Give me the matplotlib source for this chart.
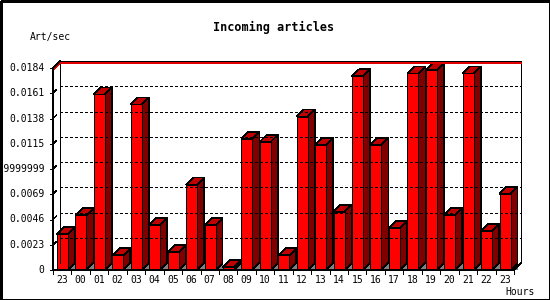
import matplotlib
matplotlib.use('Agg')
import matplotlib.pyplot as plt
from matplotlib.patches import Rectangle, Polygon

# hourly incoming article rate (art/sec)
hours = ['23', '00', '01', '02', '03', '04', '05', '06', '07', '08', '09', '10',
         '11', '12', '13', '14', '15', '16', '17', '18', '19', '20', '21', '22', '23']
values = [0.00327, 0.00500, 0.01600, 0.00134, 0.01508, 0.00409, 0.00165, 0.00778,
          0.00409, 0.00025, 0.01196, 0.01169, 0.00134, 0.01398, 0.01141, 0.00531,
          0.01764, 0.01141, 0.00382, 0.01791, 0.01819, 0.00500, 0.01791, 0.00354,
          0.00693]
yticks = [0, 0.0023, 0.0046, 0.0069, 0.0092, 0.0115, 0.0138, 0.0161, 0.0184]
ytick_labels = ['0', '0.0023', '0.0046', '0.0069', '0.009199999999999999',
                '0.0115', '0.0138', '0.0161', '0.0184']

W, H = 550, 300
fig = plt.figure(figsize=(W / 100, H / 100), dpi=100)
fig.patch.set_facecolor('white')

# front face of the plot box, in pixels
left, right, bottom, top = 53, 514, 270, 68
ax = fig.add_axes([left / W, (H - bottom) / H, (right - left) / W, (bottom - top) / H])
ax.set_xlim(0, len(values))
ax.set_ylim(0, yticks[-1])
ax.axis('off')

ymax = yticks[-1]
px_x = len(values) / (right - left)   # data units per pixel
px_y = ymax / (bottom - top)
dx, dy = 7 * px_x, 7 * px_y           # 3d depth
n = len(values)
lw = 0.5
kw = dict(clip_on=False, antialiased=False)

# back wall
ax.plot([dx, dx, n + dx, n + dx], [dy, ymax + dy, ymax + dy, dy], color='black', lw=lw, **kw)
for v in yticks[1:-1]:
    ax.plot([dx, n + dx], [v + dy, v + dy], color='black', lw=lw,
            dashes=(2.9, 2.9), **kw)
    # little slanted marks from front to back
    ax.plot([0.15 * dx, 0.45 * dx], [v + 0.15 * dy, v + 0.45 * dy], color='black', lw=lw, **kw)

# max line
vmax = max(values)
ax.plot([0, dx, n + dx], [vmax, vmax + dy, vmax + dy], color='#e00000', lw=lw, **kw)

# bars
bw = 11 * px_x
off = 4 * px_x
for i, v in enumerate(values):
    x0 = i + off
    x1 = x0 + bw
    ax.add_patch(Polygon([(x1, 0), (x1 + dx, dy), (x1 + dx, 0)], closed=True,
                         facecolor='#808080', edgecolor='none', **kw))
    ax.add_patch(Polygon([(x1, 0), (x1, v), (x1 + dx, v + dy), (x1 + dx, dy)], closed=True,
                         facecolor='#800000', edgecolor='black', lw=lw, **kw))
    ax.add_patch(Polygon([(x0, v), (x0 + dx, v + dy), (x1 + dx, v + dy), (x1, v)], closed=True,
                         facecolor='#c00000', edgecolor='black', lw=lw, **kw))
    ax.add_patch(Rectangle((x0, 0), bw, v, facecolor='#ff0000', edgecolor='black', lw=lw, **kw))

# front axes
ax.plot([dx, 0, 0, n, n + dx], [ymax + dy, ymax, 0, 0, dy], color='black', lw=lw, **kw)

mono = 'DejaVu Sans Mono'
for v, lab in zip(yticks, ytick_labels):
    ax.plot([-3 * px_x, 0], [v, v], color='black', lw=lw, **kw)
    ax.text(-8.5 * px_x, v, lab, ha='right', va='center', fontsize=7, family=mono)

for i in range(n + 1):
    ax.plot([i, i], [0, -4 * px_y], color='black', lw=lw, **kw)
for i, h in enumerate(hours):
    ax.text(i + 0.5, -10 * px_y, h, ha='center', va='center', fontsize=7, family=mono)

fig.text(274 / W, 1 - 27 / H, 'Incoming articles', ha='center', va='center',
         fontsize=8.5, family=mono, weight='bold')
fig.text(30 / W, 1 - 37 / H, 'Art/sec', ha='left', va='center', fontsize=7, family=mono)
fig.text(505 / W, 1 - 292 / H, 'Hours', ha='left', va='center', fontsize=7, family=mono)

# outer frame
fig.patches.append(Rectangle((0.5 / W, 0.5 / H), (W - 1) / W, (H - 1) / H,
                             transform=fig.transFigure, fill=False,
                             edgecolor='black', lw=1.0, antialiased=False))

fig.savefig('out.png', dpi=100)
